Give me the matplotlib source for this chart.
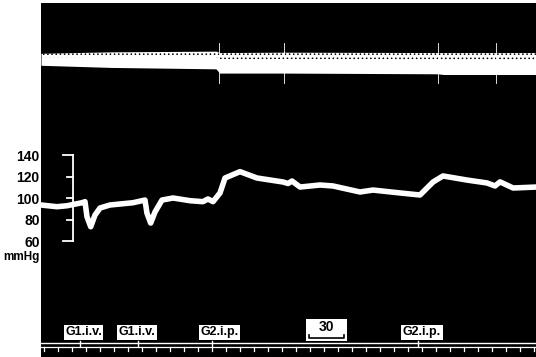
import numpy as np
import matplotlib.pyplot as plt
from matplotlib.patches import Rectangle
from matplotlib.transforms import blended_transform_factory

plt.rcParams['font.family'] = ['Liberation Sans', 'DejaVu Sans']
plt.rcParams['hatch.linewidth'] = 0.6

# blood pressure trace, time in s, pressure in mmHg
bp_time = [0, 13.7, 22.3, 35.1, 37.7, 39.4, 42.6, 46.3, 50.6, 59.1, 78.8, 89.1,
           90.8, 94.0, 97.7, 103.7, 113.1, 127.7, 138.8, 143.1, 147.4, 153.4,
           157.7, 170.5, 185.1, 207.4, 211.7, 215.1, 222.0, 239.1, 250.2, 273.4,
           284.5, 307.7, 324.8, 336.0, 344.5, 365.1, 382.2, 389.1, 393.4, 404.6, 424.2]
bp_mmhg = [93.5, 91.9, 92.8, 95.6, 96.6, 82.6, 73.3, 84.2, 90.7, 93.5, 95.6, 98.1,
           86.0, 76.7, 87.0, 98.1, 100.0, 97.5, 96.6, 99.1, 96.6, 104.7,
           118.6, 124.5, 118.6, 114.9, 113.5, 115.8, 110.2, 112.1, 111.2, 105.6,
           107.4, 104.7, 102.8, 114.9, 120.5, 116.7, 114.0, 111.2, 115.0, 109.3, 110.2]

# upper channel band (axes fraction)
top_time = [0, 60, 150, 153, 208, 340, 345, 424.2]
top_upper = [0.858, 0.862, 0.864, 0.860, 0.861, 0.860, 0.860, 0.860]
top_lower = [0.824, 0.818, 0.814, 0.802, 0.802, 0.800, 0.798, 0.798]
top_marks = [152.5, 208.3, 340.2, 389.9]

scale_ticks = [60, 80, 100, 120, 140]

events = ["G1.i.v.", "G1.i.v.", "G2.i.p.", "G2.i.p."]
event_time = [36.4, 82.3, 153.0, 326.5]
event_marks = [33.4, 83.1, 146.5, 323.1]
bar_start, bar_len = 230, 30

fig = plt.figure(figsize=(5.36, 3.57), dpi=100)
fig.patch.set_facecolor("white")
ax = fig.add_axes([41 / 536, 0, 495 / 536, 354 / 357])
ax.set_facecolor("black")
ax.set_xlim(0, 424.2)
ax.set_ylim(-47.9, 281.4)
for s in ax.spines.values():
    s.set_visible(False)
ax.set_xticks([])
ax.set_yticks(scale_ticks)
ax.set_yticklabels([str(v) for v in scale_ticks])
ax.tick_params(axis="y", length=0, pad=1, labelsize=10)
for lab in ax.get_yticklabels():
    lab.set_fontweight("bold")

trans = blended_transform_factory(ax.transData, ax.transAxes)

ax.text(-0.8, 45, "mmHg", ha="right", va="center", fontsize=8.5,
        fontweight="bold", color="black", clip_on=False)

# pressure trace
ax.plot(bp_time, bp_mmhg, color="white", lw=4, solid_joinstyle="round",
        solid_capstyle="round")

# calibration bar
ax.plot([27.4, 27.4], [60, 140], color="white", lw=1.3)
for v in scale_ticks:
    x0 = 18.9 if v in (60, 140) else 22.3
    ax.plot([x0, 27.4], [v, v], color="white", lw=1.3)

# upper channel (speckled band)
ax.fill_between(top_time, top_lower, top_upper, color="white", lw=0, transform=trans)
top_mid = [(a + 2 * b) / 3 for a, b in zip(top_lower, top_upper)]
ax.fill_between(top_time, top_mid, top_upper, facecolor="none", edgecolor="black",
                hatch="....", lw=0, transform=trans)
for t in top_marks:
    ax.plot([t, t], [0.774, 0.887], color="white", lw=0.6, transform=trans)

# event / time lines
ax.plot([0, 424.2], [0.0395, 0.0395], color="white", lw=1.0, transform=trans)
ax.plot([0, 424.2], [0.028, 0.028], color="white", lw=0.9, transform=trans)
for t in np.arange(2.6, 424, 12):
    ax.plot([t, t], [0.017, 0.028], color="white", lw=0.9, transform=trans)
for t in event_marks:
    ax.plot([t, t], [0.030, 0.046], color="white", lw=1.0, transform=trans)

for name, t in zip(events, event_time):
    ax.text(t, 0.0706, name, ha="center", va="center", fontsize=9,
            fontweight="bold", color="black", transform=trans,
            bbox=dict(boxstyle="square,pad=0.12", fc="white", ec="none"))

# 30 s bar
ax.add_patch(Rectangle((227.4, 0.045), 35.1, 0.062, fc="white", ec="none",
                       transform=trans))
ax.text(bar_start + bar_len / 2, 0.085, "30", ha="center", va="center",
        fontsize=10, fontweight="bold", color="black", transform=trans)
ax.plot([bar_start, bar_start, bar_start + bar_len, bar_start + bar_len],
        [0.063, 0.0537, 0.0537, 0.063], color="black", lw=1.2, transform=trans)

fig.savefig("out.png", dpi=100, facecolor="white")
